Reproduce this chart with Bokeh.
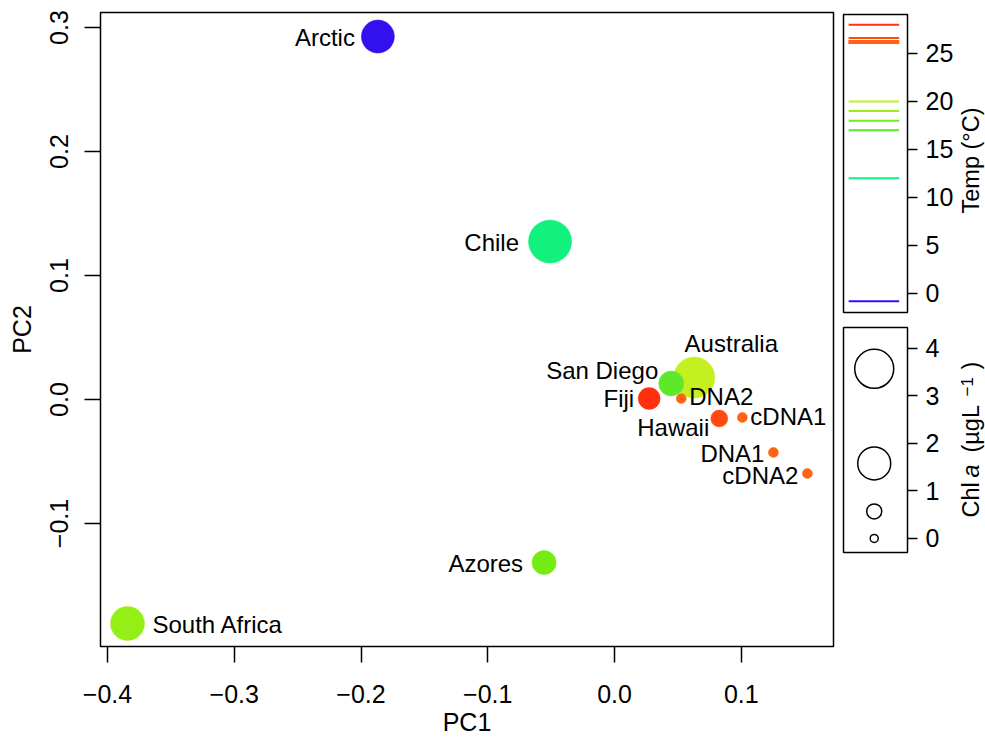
import math
import numpy as np
from bokeh.plotting import figure
from bokeh.models import ColumnDataSource, FixedTicker, Range1d
from bokeh.layouts import row, column
from bokeh.embed import file_html
from bokeh.resources import INLINE
from bokeh.core.properties import value

# ---------------- data ----------------
sites = ["Arctic", "Chile", "Australia", "San Diego", "Fiji", "DNA2",
         "Hawaii", "cDNA1", "DNA1", "cDNA2", "Azores", "South Africa"]
pc1 = [-0.1867, -0.0509, 0.0629, 0.0447, 0.0273, 0.0526,
       0.0826, 0.1008, 0.1253, 0.1521, -0.0556, -0.3842]
pc2 = [0.2927, 0.1274, 0.0177, 0.0129, 0.0008, 0.0008,
       -0.0153, -0.0145, -0.0427, -0.0597, -0.1315, -0.1806]
temp_c = [-0.8, 12.0, 20.0, 17.0, 28.0, 26.3,
          26.6, 26.1, 26.3, 26.1, 18.0, 19.0]
chl_a = [1.58, 4.4, 4.0, 1.13, 0.96, 0.16,
         0.68, 0.16, 0.16, 0.16, 1.08, 1.91]

x_ticks = [-0.4, -0.3, -0.2, -0.1, 0.0, 0.1]
x_tick_labels = ["\u22120.4", "\u22120.3", "\u22120.2", "\u22120.1", "0.0", "0.1"]
y_ticks = [-0.1, 0.0, 0.1, 0.2, 0.3]
y_tick_labels = ["\u22120.1", "0.0", "0.1", "0.2", "0.3"]
temp_ticks = [0, 5, 10, 15, 20, 25]
chl_ticks = [0, 1, 2, 3, 4]
chl_legend_values = [0.0, 0.57, 1.58, 3.57]
temp_title = "Temp (\u00b0C)"
# "Chl a (µgL^-1)" title pieces: (text, font style, superscript?)
chl_title_parts = [("Chl", "normal", False), ("a", "italic", False),
                   ("(\u00b5gL", "normal", False), ("\u22121", "normal", True),
                   (")", "normal", False)]

# ---------------- styles ----------------
site_colors = {
    "Arctic": "#3311EE", "Chile": "#12F07E", "Australia": "#C4F020",
    "San Diego": "#5EE82A", "Fiji": "#FF3010", "DNA2": "#FF6414",
    "Hawaii": "#FF4A12", "cDNA1": "#FF6414", "DNA1": "#FF6414",
    "cDNA2": "#FF6414", "Azores": "#74EC14", "South Africa": "#94F014",
}
# label placement: (align, dx px, dy px)
label_style = {
    "Arctic": ("right", -23, 1), "Chile": ("right", -31, 1),
    "Australia": ("center", 37, -34), "San Diego": ("right", -13, -13),
    "Fiji": ("right", -15, 0), "DNA2": ("left", 8, -2),
    "Hawaii": ("right", -10, 9), "cDNA1": ("left", 8, -1),
    "DNA1": ("right", -9, 1), "cDNA2": ("right", -9, 2),
    "Azores": ("right", -21, 1), "South Africa": ("left", 25, 1),
}
size_anchor_chl = [0.0, 0.57, 1.58, 3.57, 4.4]
size_anchor_px = [8, 15, 33, 39, 43]


def chl_to_size(v):
    return np.interp(v, size_anchor_chl, size_anchor_px)


FONT = "Liberation Sans"
FS_TICK = "25px"
FS_AXIS = "25px"
FS_LABEL = "24px"
FS_SIDE = "23.5px"
FS_SUP = "17px"

# side panel geometry (px)
SIDE_W = 121                        # 8 + 67 frame + 46 axis
T_TOP, T_FH, T_BOT = 14, 298, 7
C_TOP, C_FH, C_BOT = 8, 225, 4
T_H = T_TOP + T_FH + T_BOT
C_H = C_TOP + C_FH + C_BOT
TITLE_W = 29
TITLE_MID = 14                      # centre line x of titles inside strip
TITLE_SUP_MID = 10                  # centre line x of the superscript
T_TITLE_CENTER = T_H - 160          # px above strip bottom
C_TITLE_START = [39, 79, 104, 160, 187]   # px above strip bottom


def style_axis(ax, tick_out, label_fs):
    ax.axis_line_color = None
    ax.major_tick_out = tick_out
    ax.major_tick_in = 0
    ax.major_tick_line_width = 1.5
    ax.major_tick_line_color = "black"
    ax.minor_tick_line_color = None
    ax.major_label_text_font = FONT
    ax.major_label_text_font_size = FS_TICK
    ax.major_label_text_color = "black"
    ax.axis_label_text_font = FONT
    ax.axis_label_text_font_size = label_fs
    ax.axis_label_text_font_style = "normal"
    ax.axis_label_text_color = "black"


# ---------------- main plot ----------------
p = figure(frame_width=733, frame_height=634,
           x_range=Range1d(-0.4055, 0.1727), y_range=Range1d(-0.1992, 0.3121),
           output_backend="svg", toolbar_location=None,
           min_border_left=100, min_border_top=12, min_border_right=2,
           min_border_bottom=60)
p.grid.visible = False
p.outline_line_color = "black"
p.outline_line_width = 1.5
p.background_fill_color = "white"
p.border_fill_color = "white"

xa = p.xaxis[0]
ya = p.yaxis[0]
style_axis(xa, 16, FS_AXIS)
style_axis(ya, 16, FS_AXIS)
xa.ticker = FixedTicker(ticks=x_ticks)
xa.major_label_overrides = {t: l for t, l in zip(x_ticks, x_tick_labels)}
ya.ticker = FixedTicker(ticks=y_ticks)
ya.major_label_overrides = {t: l for t, l in zip(y_ticks, y_tick_labels)}
ya.major_label_orientation = "vertical"
xa.axis_label = "PC1"
ya.axis_label = "PC2"
xa.major_label_standoff = 22
xa.axis_label_standoff = 2
ya.major_label_standoff = 16
ya.axis_label_standoff = 12

src = ColumnDataSource(dict(
    x=pc1, y=pc2, name=sites,
    color=[site_colors[s] for s in sites],
    size=chl_to_size(chl_a).tolist(),
))
p.scatter("x", "y", source=src, size="size", fill_color="color",
          line_color="color", line_width=0.5, marker="circle")

for i, s in enumerate(sites):
    align, dx, dy = label_style[s]
    p.text(x=[pc1[i]], y=[pc2[i]], text=[s], x_offset=dx, y_offset=dy,
           text_align=align, text_baseline="middle",
           text_font=value(FONT), text_font_size=FS_LABEL, text_color="black")


def side_panel(y_range, h, top, bot, ticks):
    f = figure(width=SIDE_W, height=h,
               x_range=Range1d(0, 1), y_range=Range1d(*y_range),
               output_backend="svg", toolbar_location=None,
               x_axis_location=None, y_axis_location="right",
               min_border_left=8, min_border_top=top, min_border_bottom=bot,
               min_border_right=SIDE_W - 8 - 67)
    f.grid.visible = False
    f.outline_line_color = "black"
    f.outline_line_width = 1.5
    ax = f.yaxis[0]
    style_axis(ax, 10, FS_SIDE)
    ax.ticker = FixedTicker(ticks=ticks)
    ax.major_label_standoff = 8
    return f


def title_strip(h):
    f = figure(width=TITLE_W, height=h,
               x_range=Range1d(0, TITLE_W), y_range=Range1d(0, h),
               output_backend="svg", toolbar_location=None,
               x_axis_location=None, y_axis_location=None,
               min_border=0)
    f.grid.visible = False
    f.outline_line_color = None
    return f


# ---------------- temperature legend ----------------
pt = side_panel((-1.98, 29.06), T_H, T_TOP, T_BOT, temp_ticks)
seg_src = ColumnDataSource(dict(
    y=temp_c, x0=[0.08] * len(temp_c), x1=[0.87] * len(temp_c),
    color=[site_colors[s] for s in sites]))
pt.segment(x0="x0", y0="y", x1="x1", y1="y", source=seg_src,
           line_color="color", line_width=2)

tt = title_strip(T_H)
tt.text(x=[TITLE_MID], y=[T_TITLE_CENTER], text=[temp_title],
        angle=math.pi / 2, text_align="center", text_baseline="middle",
        text_font=value(FONT), text_font_size=FS_SIDE, text_color="black")

# ---------------- chl legend ----------------
pc = side_panel((-0.295, 4.44), C_H, C_TOP, C_BOT, chl_ticks)
leg_src = ColumnDataSource(dict(
    x=[0.48] * len(chl_legend_values), y=chl_legend_values,
    size=chl_to_size(chl_legend_values).tolist()))
pc.scatter("x", "y", source=leg_src, size="size", marker="circle",
           fill_color=None, line_color="black", line_width=1.5)

tc = title_strip(C_H)
for (txt, style, sup), start in zip(chl_title_parts, C_TITLE_START):
    tc.text(x=[TITLE_SUP_MID if sup else TITLE_MID], y=[start], text=[txt],
            angle=math.pi / 2, text_align="left", text_baseline="middle",
            text_font=value(FONT), text_font_style=style,
            text_font_size=FS_SUP if sup else FS_SIDE, text_color="black")

layout = row(p, column(pt, pc), column(tt, tc))
open("out.html", "w").write(file_html(layout, INLINE))
